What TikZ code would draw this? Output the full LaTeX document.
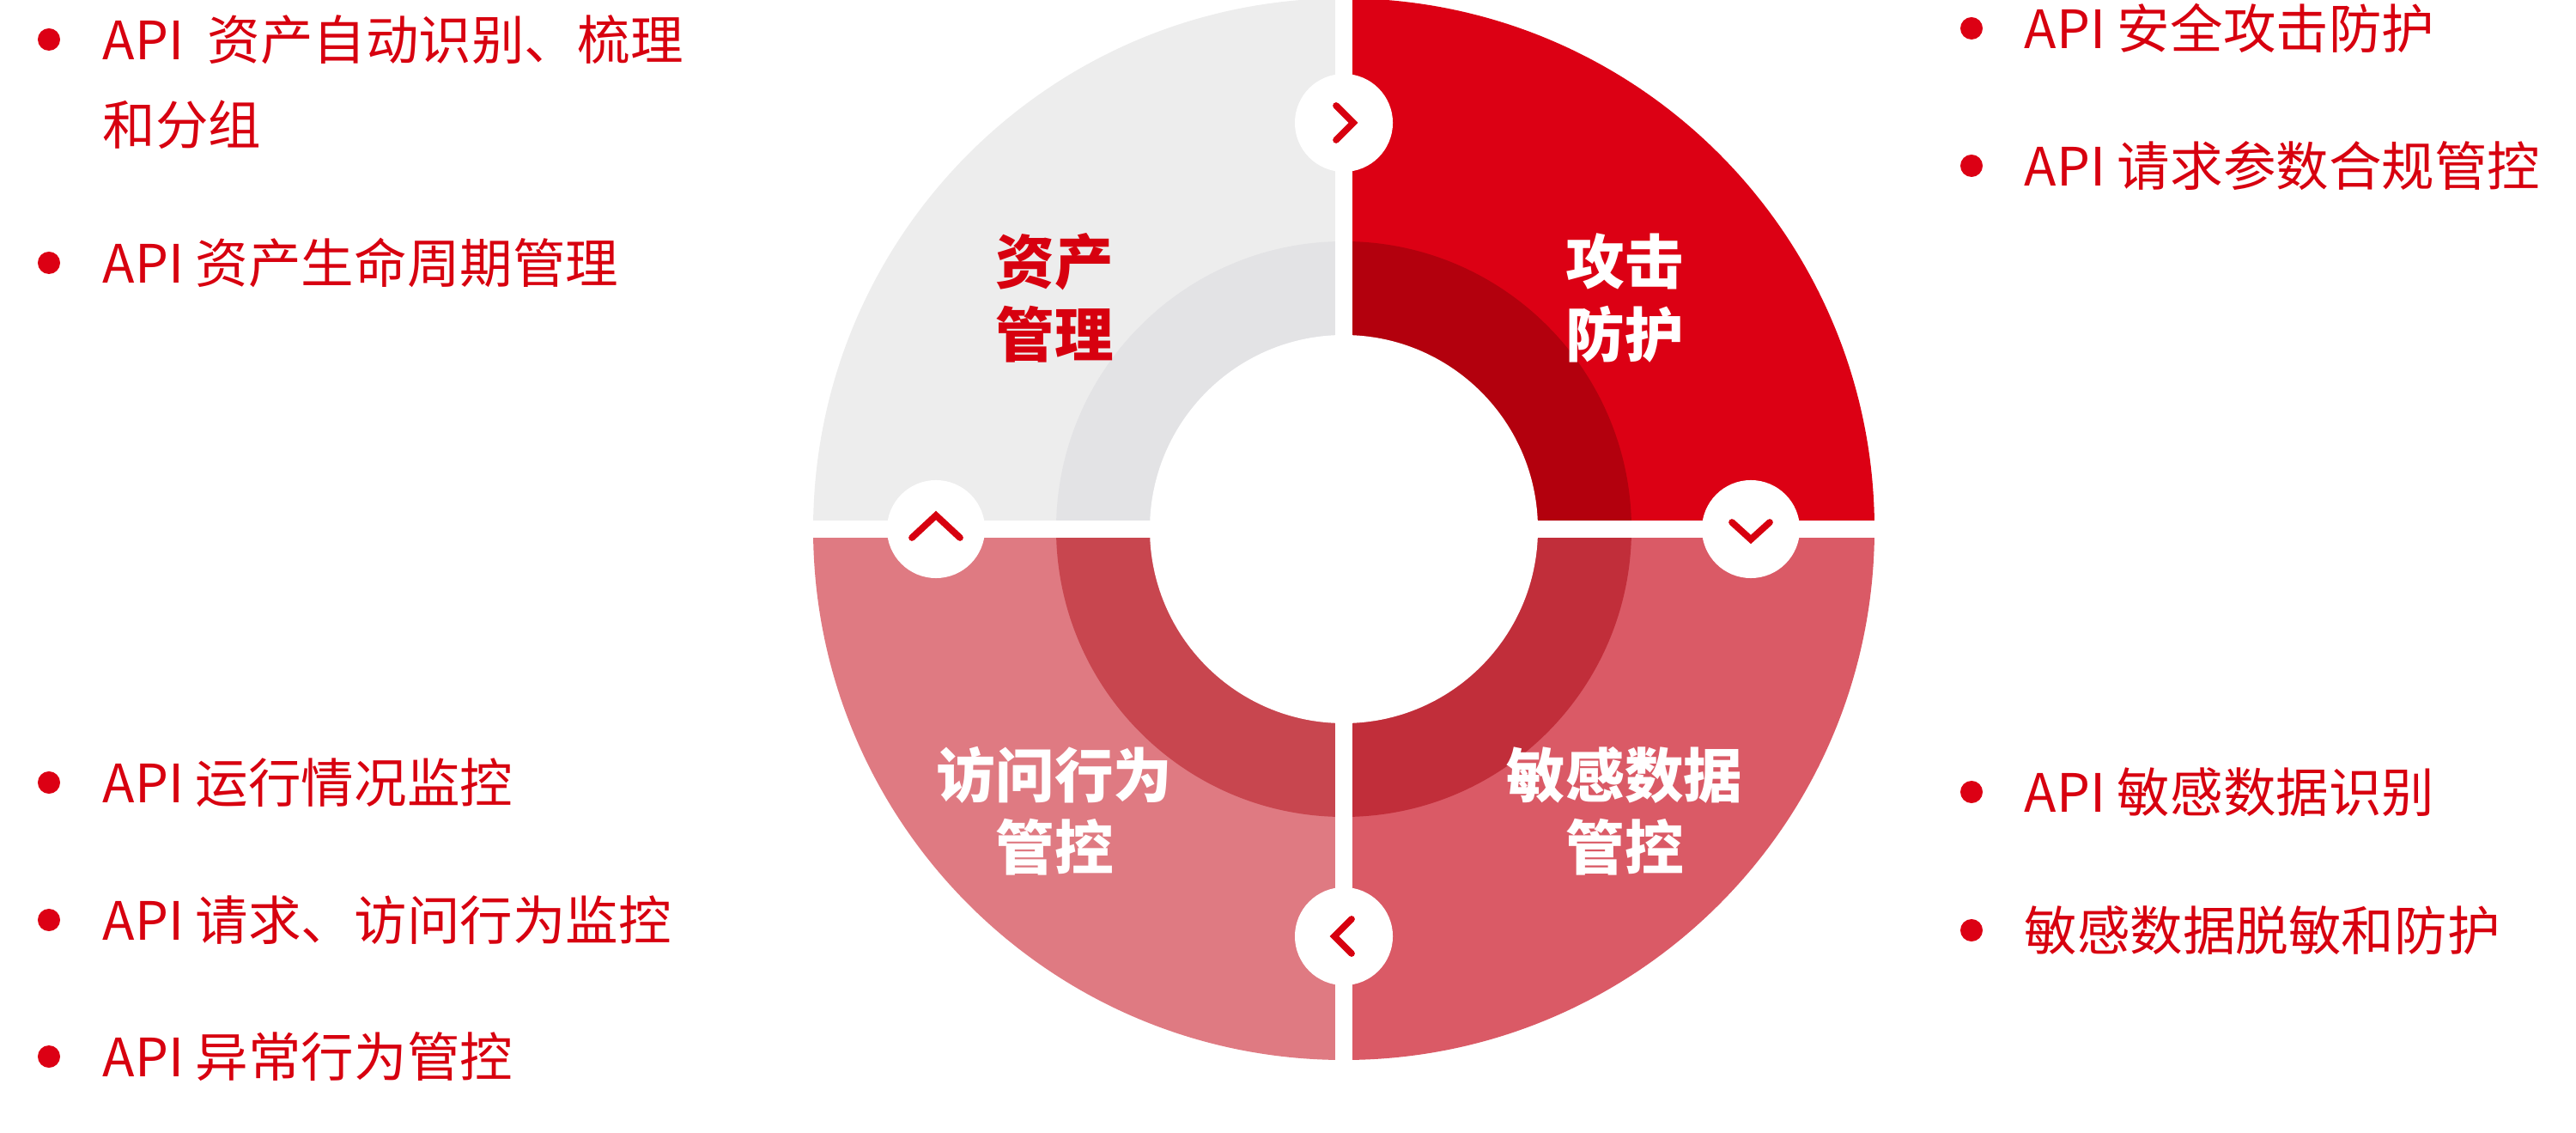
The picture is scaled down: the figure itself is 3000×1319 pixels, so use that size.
\documentclass[tikz,border=0pt]{standalone}
\usepackage{fontspec}
\setmainfont{Noto Sans CJK SC}
\usetikzlibrary{positioning}
\definecolor{mred}{HTML}{DC0014}
\definecolor{tred}{HTML}{D7000F}

\tikzset{
  item/.style={anchor=west, text=tred, font=\fontsize{17.5}{24}\selectfont, align=left, inner sep=0pt},
  dot/.style={circle, fill=mred, minimum size=0.26cm, inner sep=0pt},
  title/.style={font=\fontsize{19.5}{24}\selectfont\bfseries, align=center, inner sep=0pt},
  badge/.style={circle, fill=white, minimum size=1.14cm, inner sep=0pt},
  chev/.style={draw=tred, line width=2.2pt, line cap=round, line join=miter}
}

\begin{document}
\begin{tikzpicture}[x=0.01cm, y=-0.01cm]
\useasboundingbox (0,0) rectangle (3000,1319);
\coordinate (c) at (1565,616);

% quadrants
\begin{scope}
  \clip (c) rectangle (900,0);
  \fill[fill={rgb,255:red,237;green,237;blue,237}] (c) circle (618);
  \fill[fill={rgb,255:red,227;green,227;blue,229}] (c) circle (335);
\end{scope}
\begin{scope}
  \clip (c) rectangle (2300,0);
  \fill[mred] (c) circle (618);
  \fill[fill={rgb,255:red,179;green,0;blue,13}] (c) circle (335);
\end{scope}
\begin{scope}
  \clip (c) rectangle (900,1319);
  \fill[fill={rgb,255:red,223;green,122;blue,130}] (c) circle (618);
  \fill[fill={rgb,255:red,200;green,70;blue,79}] (c) circle (335);
\end{scope}
\begin{scope}
  \clip (c) rectangle (2300,1319);
  \fill[fill={rgb,255:red,218;green,90;blue,102}] (c) circle (618);
  \fill[fill={rgb,255:red,193;green,46;blue,58}] (c) circle (335);
\end{scope}
\fill[white] (c) circle (226);
\fill[white] (1555,0) rectangle (1575,1319);
\fill[white] (900,606) rectangle (2300,626);

% badges
\node[badge] (bt) at (1565,143) {};
\node[badge] (br) at (2039,616) {};
\node[badge] (bb) at (1565,1090) {};
\node[badge] (bl) at (1090,616) {};
\draw[chev] ([shift={(-9,-20)}]bt.center) -- ++(20,20) -- ++(-20,20);
\draw[chev] ([shift={(-22,-8)}]br.center) -- ++(22,20) -- ++(22,-20);
\draw[chev] ([shift={(9,-20)}]bb.center) -- ++(-20,20) -- ++(20,20);
\draw[chev] ([shift={(-28,10)}]bl.center) -- ++(28,-26) -- ++(28,26);

% titles
\node[title, text=tred] (zc) at (1228,347) {资产\\管理};
\node[title, text=white] (gj) at (1892,347) {攻击\\防护};
\node[title, text=white] (fw) at (1228,944) {访问行为\\管控};
\node[title, text=white] (mg) at (1892,944) {敏感数据\\管控};

% left items
\node[dot] (d1) at (57,46) {};
\node[item] (t1) at (119,46) {API\ \ 资产自动识别、梳理};
\node[item] (t1b) at (119,145) {和分组};
\node[dot] (d2) at (57,306) {};
\node[item] (t2) at (119,306) {API 资产生命周期管理};
\node[dot] (d3) at (57,911) {};
\node[item] (t3) at (119,911) {API 运行情况监控};
\node[dot] (d4) at (57,1071) {};
\node[item] (t4) at (119,1071) {API 请求、访问行为监控};
\node[dot] (d5) at (57,1230) {};
\node[item] (t5) at (119,1230) {API 异常行为管控};

% right items
\node[dot] (d6) at (2296,33) {};
\node[item] (t6) at (2357,33) {API 安全攻击防护};
\node[dot] (d7) at (2296,193) {};
\node[item] (t7) at (2357,193) {API 请求参数合规管控};
\node[dot] (d8) at (2296,922) {};
\node[item] (t8) at (2357,922) {API 敏感数据识别};
\node[dot] (d9) at (2296,1083) {};
\node[item] (t9) at (2357,1083) {敏感数据脱敏和防护};
\end{tikzpicture}
\end{document}
